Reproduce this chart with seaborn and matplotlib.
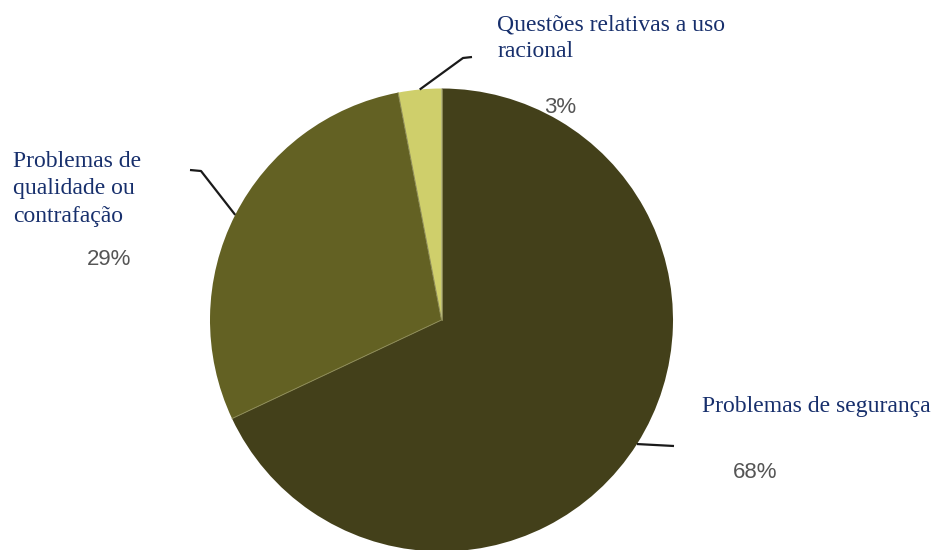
import numpy as np
import matplotlib
matplotlib.use("Agg")
import matplotlib.pyplot as plt
import seaborn as sns

# Data
categories = ["Problemas de segurança",
              "Problemas de\nqualidade ou\ncontrafação",
              "Questões relativas a uso\nracional"]
shares = [68, 29, 3]
pct_labels = ["68%", "29%", "3%"]

sns.set_theme(style="white")
plt.rcParams["font.family"] = ["Liberation Serif", "DejaVu Serif"]

colors = ["#43401a", "#636123", "#cfcf6b"]

W, H = 936, 550
fig = plt.figure(figsize=(W / 100, H / 100), dpi=100)
ax = fig.add_axes([0, 0, 1, 1])

cx, cy, r = 441.5, H - 320, 231.5
wedges, _ = ax.pie(shares, colors=colors, startangle=90, counterclock=False,
                   center=(cx, cy), radius=r,
                   wedgeprops=dict(linewidth=0, antialiased=True))

# thin light separators between slices
bounds = 90 - np.cumsum([0] + shares) / 100 * 360
for a in bounds[:-1]:
    t = np.deg2rad(a)
    ax.plot([cx, cx + r * np.cos(t)], [cy, cy + r * np.sin(t)],
            color="#8c8a55", lw=0.7, zorder=3)

ax.set_xlim(0, W)
ax.set_ylim(0, H)
ax.set_aspect("equal")
ax.axis("off")

# label layout: text x / first baseline, percent x / baseline, leader elbows
text_pos = [(702, 412), (13, 167), (497, 30)]
pct_pos = [(733, 478), (87, 265), (544, 113)]
leader_ends = [[(674, 446)], [(201, 171), (190, 170)], [(463, 58), (472, 57)]]

navy = "#172f6c"
for i, w in enumerate(wedges):
    mid = np.deg2rad((w.theta1 + w.theta2) / 2)
    sx, sy = cx + r * np.cos(mid), cy + r * np.sin(mid)
    xs = [sx] + [p[0] for p in leader_ends[i]]
    ys = [sy] + [H - p[1] for p in leader_ends[i]]
    ax.plot(xs, ys, color="#1a1a1a", lw=1.6, solid_capstyle="butt", zorder=4)

    tx, ty = text_pos[i]
    for k, line in enumerate(categories[i].split("\n")):
        ax.text(tx, H - (ty + 27.3 * k), line, fontsize=17, color=navy,
                ha="left", va="baseline")
    px, py = pct_pos[i]
    ax.text(px, H - py, pct_labels[i], fontsize=16, color="#555555",
            family=["Liberation Sans", "DejaVu Sans"], ha="left", va="baseline")

fig.savefig("out.png", dpi=100, facecolor="white")
